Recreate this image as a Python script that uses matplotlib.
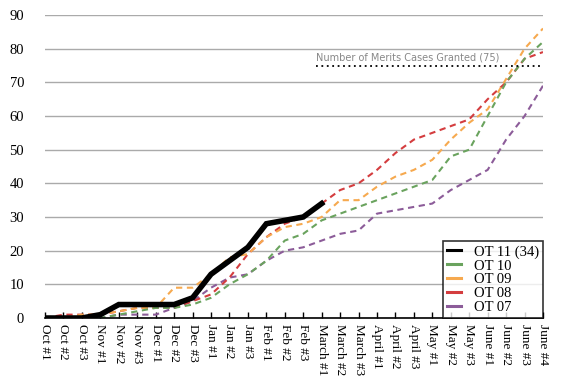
import matplotlib
matplotlib.use("Agg")
import matplotlib.pyplot as plt

# week labels, Oct through June
weeks = ["Oct #1", "Oct #2", "Oct #3", "Nov #1", "Nov #2", "Nov #3",
         "Dec #1", "Dec #2", "Dec #3", "Jan #1", "Jan #2", "Jan #3",
         "Feb #1", "Feb #2", "Feb #3", "March #1", "March #2", "March #3",
         "April #1", "April #2", "April #3", "May #1", "May #2", "May #3",
         "June #1", "June #2", "June #3", "June #4"]

ot11 = [0, 0, 0, 1, 4, 4, 4, 4, 6, 13, 17, 21, 28, 29, 30, 34]
ot10 = [0, 0, 0, 0, 1, 2, 3, 3, 4, 6, 10, 13, 17, 23, 25, 29, 31, 33,
        35, 37, 39, 41, 48, 50, 60, 70, 77, 82]
ot09 = [0, 0, 1, 1, 2, 3, 3, 9, 9, 13, 18, 19, 24, 27, 28, 30, 35, 35,
        39, 42, 44, 47, 53, 58, 62, 71, 80, 86]
ot08 = [0, 1, 1, 1, 2, 3, 3, 3, 5, 7, 12, 19, 24, 28, 30, 34, 38, 40,
        44, 49, 53, 55, 57, 59, 65, 70, 77, 79]
ot07 = [0, 0, 0, 0, 1, 1, 1, 3, 5, 9, 12, 13, 17, 20, 21, 23, 25, 26,
        31, 32, 33, 34, 38, 41, 44, 53, 60, 69]

granted = 75
granted_from = 14.7  # roughly where the note starts (category index)

plt.rcParams['font.family'] = ['Liberation Serif', 'DejaVu Serif']

fig = plt.figure(figsize=(5.8, 3.9), dpi=100)
ax = fig.add_axes([0.0776, 0.1846, 0.8586, 0.7769])

x_all = range(len(weeks))
dash = (0, (3, 2.2))
ax.plot(x_all, ot07, color='#8c5c99', lw=1.5, ls=dash, label='OT 07')
ax.plot(x_all, ot08, color='#d43d3f', lw=1.5, ls=dash, label='OT 08')
ax.plot(x_all, ot09, color='#f6a94f', lw=1.5, ls=dash, label='OT 09')
ax.plot(x_all, ot10, color='#6aa35e', lw=1.5, ls=dash, label='OT 10')
ax.plot(range(len(ot11)), ot11, color='black', lw=4, solid_joinstyle='miter',
        label='OT 11 (34)', zorder=5)

# merits cases granted reference
ax.plot([granted_from, len(weeks) - 1], [granted, granted], color='black',
        lw=1.3, ls=(0, (1, 2)))
ax.text(granted_from, granted + 0.8, 'Number of Merits Cases Granted (75)',
        family='DejaVu Sans', fontsize=7, color='#888888', ha='left', va='bottom')

ax.set_xlim(0, len(weeks) - 1)
ax.set_ylim(0, 90)
ax.set_yticks(range(0, 91, 10))
ax.set_xticks(list(x_all))
ax.set_xticklabels(weeks, rotation=-90, fontsize=9.5)
ax.tick_params(axis='x', direction='in', length=4, width=1, pad=4)
ax.tick_params(axis='y', length=0, pad=15, labelsize=10.5)
ax.yaxis.grid(True, color='#aaaaaa', lw=1)
ax.set_axisbelow(True)
for s in ['top', 'right', 'left']:
    ax.spines[s].set_visible(False)
ax.spines['bottom'].set_linewidth(1.2)

handles, labels = ax.get_legend_handles_labels()
order = [4, 3, 2, 1, 0]
leg = ax.legend([handles[i] for i in order], [labels[i] for i in order],
                loc='lower right', fontsize=10.5, frameon=True, fancybox=False,
                handlelength=1.0, borderaxespad=0, labelspacing=0.05,
                borderpad=0.25, handletextpad=0.9)
leg.get_frame().set_edgecolor('black')
leg.get_frame().set_linewidth(1.2)
for line in leg.get_lines():
    line.set_linestyle('-')
    line.set_linewidth(2.2)

fig.savefig('out.png', dpi=100)
